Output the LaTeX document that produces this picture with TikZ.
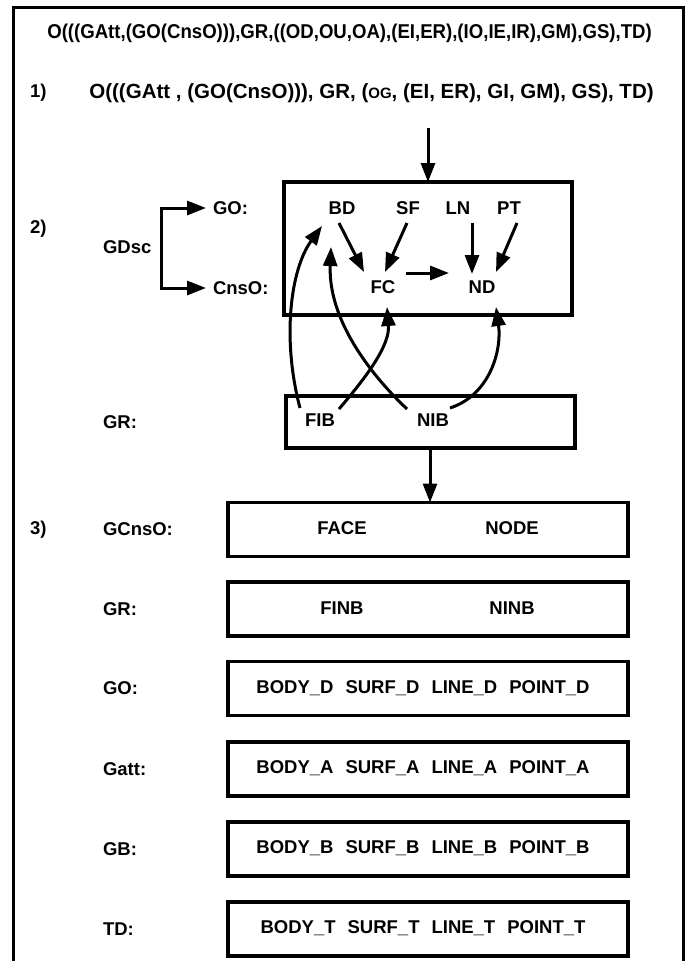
\documentclass[tikz,border=0pt]{standalone}
\usepackage{fontspec}
\usepackage{graphicx}
\setmainfont{Liberation Sans}
\usetikzlibrary{arrows.meta}
\begin{document}
\begin{tikzpicture}[x=1pt,y=-1pt,
  every node/.style={font=\fontsize{18.5}{20}\selectfont\bfseries, inner sep=0pt, outer sep=0pt},
  box/.style={draw, line width=3.2pt},
  rowbox/.style={box, minimum width=400pt, minimum height=54pt},
  lbl/.style={anchor=west},
  arr/.style={line width=3pt, -{Triangle[length=19pt,width=14pt]}},
  bigtxt/.style={font=\fontsize{20}{22}\selectfont\bfseries}]
\useasboundingbox (0,0) rectangle (688,961);
% outer frame
\draw[line width=3pt] (13,965) -- (13,7) -- (683,7) -- (683,965);
% title lines
\node[bigtxt] (title) at (349.5,33) {\scalebox{0.93}[1]{O(((GAtt,(GO(CnsO))),GR,((OD,OU,OA),(EI,ER),(IO,IE,IR),GM),GS),TD)}};
\node[lbl] (n1) at (30,93) {1)};
\node[font=\fontsize{20.5}{22}\selectfont\bfseries] (form) at (371.5,93) {O(((GAtt , (GO(CnsO))), GR, ({\fontsize{15}{16}\selectfont OG}, (EI, ER), GI, GM), GS), TD)};
% section 2
\node[lbl] (n2) at (30,229) {2)};
\node[lbl] (gdsc) at (103,247) {GDsc};
\node[lbl] (GOl) at (213,208) {GO:};
\node[lbl] (CnsOl) at (213,288) {CnsO:};
\coordinate (br1) at (161,208);
\coordinate (br2) at (161,288);
\draw[line width=3pt, {Triangle[length=19pt,width=14pt]}-{Triangle[length=19pt,width=14pt]}]
  ([xshift=-7pt]GOl.west) -- (br1) -- (br2) -- ([xshift=-7pt]CnsOl.west);
\node[box, minimum width=288pt, minimum height=133pt] (gbox) at (428,248.5) {};
\coordinate (topin) at (428,128);
\draw[arr] (topin) -- (gbox.north);
\node (BD) at (342,208) {BD};
\node (SF) at (408,208) {SF};
\node (LN) at (458,208) {LN};
\node (PT) at (509,208) {PT};
\node (FC) at (383,287) {FC};
\node (ND) at (482,287) {ND};
\draw[arr] ([shift={(-3,15)}]BD.center) -- ([shift={(-19,-15)}]FC.center);
\draw[arr] ([shift={(-1,15)}]SF.center) -- ([shift={(2,-15)}]FC.center);
\draw[arr] ([shift={(14,15)}]LN.center) -- ([shift={(-10,-13)}]ND.center);
\draw[arr] ([shift={(8,15)}]PT.center) -- ([shift={(14,-15)}]ND.center);
\draw[arr] ([shift={(23,-14)}]FC.center) -- ([shift={(-33,-14)}]ND.center);
% GR box
\node[lbl] (grl1) at (103,422) {GR:};
\node[box, minimum width=289pt, minimum height=52pt] (grbox) at (430.5,422) {};
\node (FIB) at (320,420) {FIB};
\node (NIB) at (433,420) {NIB};
\draw[arr] ([shift={(-20,-12)}]FIB.center) .. controls (282,340) and (290,270) .. ([shift={(-20,18)}]BD.center);
\draw[arr] ([shift={(-26,-11)}]NIB.center) .. controls (368,372) and (328,318) .. ([shift={(-11,39)}]BD.center);
\draw[arr] ([shift={(19,-11)}]FIB.center) .. controls (368,375) and (390,345) .. ([shift={(4,20)}]FC.center);
\draw[arr] ([shift={(17,-12)}]NIB.center) .. controls (490,395) and (502,350) .. ([shift={(14,20)}]ND.center);
% section 3
\node[lbl] (n3) at (30,529.5) {3)};
\node[rowbox] (r1) at (428,529.5) {};
\draw[arr] ([xshift=-0.5pt]grbox.south) -- ([xshift=-0.5pt]grbox.south |- r1.north);
\node[lbl] (l1) at (103,529.5) {GCnsO:};
\node (FACE) at (342,528) {FACE};
\node (NODE) at (512,528) {NODE};
\node[rowbox] (r2) at (428,609) {};
\node[lbl] (l2) at (103,609) {GR:};
\node (FINB) at (342,608) {FINB};
\node (NINB) at (512,608) {NINB};
\node[rowbox] (r3) at (428,688.5) {};
\node[lbl] (l3) at (103,688.5) {GO:};
\node (t3) at (423,688) {BODY\_D\hspace{12pt}SURF\_D\hspace{12pt}LINE\_D\hspace{12pt}POINT\_D};
\node[rowbox] (r4) at (428,769) {};
\node[lbl] (l4) at (103,769) {Gatt:};
\node (t4) at (423,768) {BODY\_A\hspace{12pt}SURF\_A\hspace{12pt}LINE\_A\hspace{12pt}POINT\_A};
\node[rowbox] (r5) at (428,849) {};
\node[lbl] (l5) at (103,849) {GB:};
\node (t5) at (423,848) {BODY\_B\hspace{12pt}SURF\_B\hspace{12pt}LINE\_B\hspace{12pt}POINT\_B};
\node[rowbox] (r6) at (428,929) {};
\node[lbl] (l6) at (103,929) {TD:};
\node (t6) at (423,928) {BODY\_T\hspace{12pt}SURF\_T\hspace{12pt}LINE\_T\hspace{12pt}POINT\_T};
\end{tikzpicture}
\end{document}
